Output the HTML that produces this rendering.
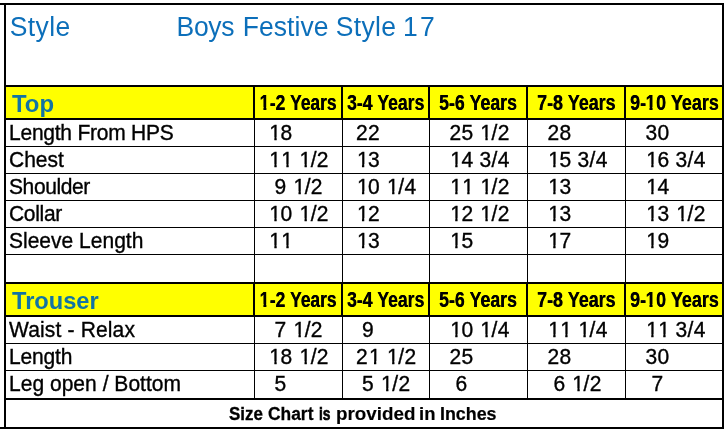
<!DOCTYPE html>
<html><head><meta charset="utf-8"><title>Size Chart</title>
<style>
html,body{margin:0;padding:0;background:#fff;}
body{width:726px;height:432px;position:relative;overflow:hidden;font-family:"Liberation Sans",sans-serif;color:#000;}
.r{position:absolute;}
.t{position:absolute;height:50px;line-height:0;white-space:nowrap;transform-origin:0 50px;}
.t>i{display:inline-block;width:0;height:50px;}
.b{color:#0C6FBA;}
.y{color:#1274A4;}
.d{-webkit-text-stroke:.35px #000;}
.w{font-weight:bold;}
.f{-webkit-text-stroke:.3px #000;}
.h{text-shadow:.35px 0 0 #000;}
.o{display:inline-block;font-weight:inherit;line-height:1.117em;vertical-align:baseline;position:relative;
clip-path:polygon(0 0,100% 0,100% .78em,.35em .78em,.35em 100%,.2415em 100%,.2415em .78em,0 .78em);}
.v .o{left:.038em;}
.w .o{left:-.025em;clip-path:polygon(0 0,100% 0,100% .78em,.383em .78em,.383em 100%,.2334em 100%,.2334em .78em,0 .78em);}
#c{position:absolute;left:0;top:0;width:726px;height:432px;will-change:transform;}
</style></head><body><div id="c">
<div class="r" style="left:6px;top:87px;width:716px;height:31px;background:#FFFF00"></div>
<div class="r" style="left:6px;top:284px;width:716px;height:31px;background:#FFFF00"></div>
<div class="r" style="left:0px;top:3px;width:724px;height:2px;background:#000"></div>
<div class="r" style="left:0px;top:427px;width:724px;height:2px;background:#000"></div>
<div class="r" style="left:4px;top:3px;width:2px;height:426px;background:#000"></div>
<div class="r" style="left:722px;top:3px;width:2px;height:426px;background:#000"></div>
<div class="r" style="left:6px;top:85px;width:716px;height:2px;background:#000"></div>
<div class="r" style="left:6px;top:118px;width:716px;height:2px;background:#000"></div>
<div class="r" style="left:6px;top:282px;width:716px;height:2px;background:#000"></div>
<div class="r" style="left:6px;top:315px;width:716px;height:2px;background:#000"></div>
<div class="r" style="left:6px;top:398px;width:716px;height:2px;background:#000"></div>
<div class="r" style="left:6px;top:146px;width:716px;height:1px;background:#000"></div>
<div class="r" style="left:6px;top:173px;width:716px;height:1px;background:#000"></div>
<div class="r" style="left:6px;top:200px;width:716px;height:1px;background:#000"></div>
<div class="r" style="left:6px;top:227px;width:716px;height:1px;background:#000"></div>
<div class="r" style="left:6px;top:254px;width:716px;height:1px;background:#000"></div>
<div class="r" style="left:6px;top:343px;width:716px;height:1px;background:#000"></div>
<div class="r" style="left:6px;top:370px;width:716px;height:1px;background:#000"></div>
<div class="r" style="left:254px;top:87px;width:1px;height:311px;background:#000"></div>
<div class="r" style="left:253px;top:85px;width:2px;height:35px;background:#000"></div>
<div class="r" style="left:253px;top:282px;width:2px;height:35px;background:#000"></div>
<div class="r" style="left:342px;top:87px;width:1px;height:311px;background:#000"></div>
<div class="r" style="left:341px;top:85px;width:2px;height:35px;background:#000"></div>
<div class="r" style="left:341px;top:282px;width:2px;height:35px;background:#000"></div>
<div class="r" style="left:429px;top:87px;width:1px;height:311px;background:#000"></div>
<div class="r" style="left:428px;top:85px;width:2px;height:35px;background:#000"></div>
<div class="r" style="left:428px;top:282px;width:2px;height:35px;background:#000"></div>
<div class="r" style="left:527px;top:87px;width:1px;height:311px;background:#000"></div>
<div class="r" style="left:526px;top:85px;width:2px;height:35px;background:#000"></div>
<div class="r" style="left:526px;top:282px;width:2px;height:35px;background:#000"></div>
<div class="r" style="left:625px;top:87px;width:1px;height:311px;background:#000"></div>
<div class="r" style="left:624px;top:85px;width:2px;height:35px;background:#000"></div>
<div class="r" style="left:624px;top:282px;width:2px;height:35px;background:#000"></div>
<div class="t b" style="left:9.80px;top:-14.00px;font-size:26.5px;letter-spacing:0.367px;transform:scale(1.0000,1.0300);"><i></i>Style</div>
<div class="t b" style="left:176.53px;top:-14.00px;font-size:26.5px;letter-spacing:-0.294px;transform:scale(1.0000,1.0300);"><i></i>Boys</div>
<div class="t b" style="left:242.63px;top:-14.00px;font-size:26.5px;letter-spacing:0.090px;transform:scale(1.0000,1.0300);"><i></i>Festive</div>
<div class="t b" style="left:335.80px;top:-14.00px;font-size:26.5px;letter-spacing:0.342px;transform:scale(1.0000,1.0300);"><i></i>Style</div>
<div class="t b" style="left:403.08px;top:-14.00px;font-size:26.5px;letter-spacing:2.175px;transform:scale(1.0000,1.0300);"><i></i>17</div>
<div class="t w y" style="left:11.53px;top:62.00px;font-size:23.4px;transform:scale(1.0226,1.0500);"><i></i>Top</div>
<div class="t w y" style="left:11.53px;top:259.00px;font-size:23.4px;transform:scale(1.0104,1.0500);"><i></i>Trouser</div>
<div class="t w h" style="left:259.70px;top:60.00px;font-size:20.8px;transform:scale(0.8367,1.0400);"><i></i><b class="o">1</b>-2&nbsp;Years</div>
<div class="t w h" style="left:346.90px;top:60.00px;font-size:20.8px;transform:scale(0.8445,1.0400);"><i></i>3-4&nbsp;Years</div>
<div class="t w h" style="left:439.46px;top:60.00px;font-size:20.8px;transform:scale(0.8515,1.0400);"><i></i>5-6&nbsp;Years</div>
<div class="t w h" style="left:536.83px;top:60.00px;font-size:20.8px;transform:scale(0.8582,1.0400);"><i></i>7-8&nbsp;Years</div>
<div class="t w h" style="left:630.08px;top:60.00px;font-size:20.8px;transform:scale(0.8614,1.0400);"><i></i>9-<b class="o">1</b>0&nbsp;Years</div>
<div class="t w h" style="left:259.70px;top:257.00px;font-size:20.8px;transform:scale(0.8367,1.0400);"><i></i><b class="o">1</b>-2&nbsp;Years</div>
<div class="t w h" style="left:346.90px;top:257.00px;font-size:20.8px;transform:scale(0.8445,1.0400);"><i></i>3-4&nbsp;Years</div>
<div class="t w h" style="left:439.46px;top:257.00px;font-size:20.8px;transform:scale(0.8515,1.0400);"><i></i>5-6&nbsp;Years</div>
<div class="t w h" style="left:536.83px;top:257.00px;font-size:20.8px;transform:scale(0.8582,1.0400);"><i></i>7-8&nbsp;Years</div>
<div class="t w h" style="left:630.08px;top:257.00px;font-size:20.8px;transform:scale(0.8614,1.0400);"><i></i>9-<b class="o">1</b>0&nbsp;Years</div>
<div class="t d" style="left:9.00px;top:90.00px;font-size:21px;letter-spacing:-0.236px;transform:scale(1.0000,1.0250);"><i></i>Length&nbsp;From&nbsp;HPS</div>
<div class="t v d" style="left:268.50px;top:90.00px;font-size:21px;letter-spacing:0.321px;transform:scale(1.0000,1.0250);"><i></i><b class="o">1</b>8</div>
<div class="t v d" style="left:356.10px;top:90.00px;font-size:21px;letter-spacing:0.321px;transform:scale(1.0000,1.0250);"><i></i>22</div>
<div class="t v d" style="left:449.40px;top:90.00px;font-size:21px;letter-spacing:0.321px;transform:scale(1.0000,1.0250);"><i></i>25&nbsp;<b class="o">1</b>/2</div>
<div class="t v d" style="left:547.40px;top:90.00px;font-size:21px;letter-spacing:0.321px;transform:scale(1.0000,1.0250);"><i></i>28</div>
<div class="t v d" style="left:645.40px;top:90.00px;font-size:21px;letter-spacing:0.321px;transform:scale(1.0000,1.0250);"><i></i>30</div>
<div class="t d" style="left:9.00px;top:117.00px;font-size:21px;letter-spacing:0.011px;transform:scale(1.0000,1.0250);"><i></i>Chest</div>
<div class="t v d" style="left:268.50px;top:117.00px;font-size:21px;letter-spacing:0.321px;transform:scale(1.0000,1.0250);"><i></i><b class="o">1</b><b class="o">1</b>&nbsp;<b class="o">1</b>/2</div>
<div class="t v d" style="left:356.10px;top:117.00px;font-size:21px;letter-spacing:0.321px;transform:scale(1.0000,1.0250);"><i></i><b class="o">1</b>3</div>
<div class="t v d" style="left:449.40px;top:117.00px;font-size:21px;letter-spacing:0.321px;transform:scale(1.0000,1.0250);"><i></i><b class="o">1</b>4&nbsp;3/4</div>
<div class="t v d" style="left:547.40px;top:117.00px;font-size:21px;letter-spacing:0.321px;transform:scale(1.0000,1.0250);"><i></i><b class="o">1</b>5&nbsp;3/4</div>
<div class="t v d" style="left:645.40px;top:117.00px;font-size:21px;letter-spacing:0.321px;transform:scale(1.0000,1.0250);"><i></i><b class="o">1</b>6&nbsp;3/4</div>
<div class="t d" style="left:9.00px;top:144.00px;font-size:21px;letter-spacing:-0.388px;transform:scale(1.0000,1.0250);"><i></i>Shoulder</div>
<div class="t v d" style="left:274.50px;top:144.00px;font-size:21px;letter-spacing:0.321px;transform:scale(1.0000,1.0250);"><i></i>9&nbsp;<b class="o">1</b>/2</div>
<div class="t v d" style="left:356.10px;top:144.00px;font-size:21px;letter-spacing:0.321px;transform:scale(1.0000,1.0250);"><i></i><b class="o">1</b>0&nbsp;<b class="o">1</b>/4</div>
<div class="t v d" style="left:449.40px;top:144.00px;font-size:21px;letter-spacing:0.321px;transform:scale(1.0000,1.0250);"><i></i><b class="o">1</b><b class="o">1</b>&nbsp;<b class="o">1</b>/2</div>
<div class="t v d" style="left:547.40px;top:144.00px;font-size:21px;letter-spacing:0.321px;transform:scale(1.0000,1.0250);"><i></i><b class="o">1</b>3</div>
<div class="t v d" style="left:645.40px;top:144.00px;font-size:21px;letter-spacing:0.321px;transform:scale(1.0000,1.0250);"><i></i><b class="o">1</b>4</div>
<div class="t d" style="left:9.00px;top:171.00px;font-size:21px;letter-spacing:-0.300px;transform:scale(1.0000,1.0250);"><i></i>Collar</div>
<div class="t v d" style="left:268.50px;top:171.00px;font-size:21px;letter-spacing:0.321px;transform:scale(1.0000,1.0250);"><i></i><b class="o">1</b>0&nbsp;<b class="o">1</b>/2</div>
<div class="t v d" style="left:356.10px;top:171.00px;font-size:21px;letter-spacing:0.321px;transform:scale(1.0000,1.0250);"><i></i><b class="o">1</b>2</div>
<div class="t v d" style="left:449.40px;top:171.00px;font-size:21px;letter-spacing:0.321px;transform:scale(1.0000,1.0250);"><i></i><b class="o">1</b>2&nbsp;<b class="o">1</b>/2</div>
<div class="t v d" style="left:547.40px;top:171.00px;font-size:21px;letter-spacing:0.321px;transform:scale(1.0000,1.0250);"><i></i><b class="o">1</b>3</div>
<div class="t v d" style="left:645.40px;top:171.00px;font-size:21px;letter-spacing:0.321px;transform:scale(1.0000,1.0250);"><i></i><b class="o">1</b>3&nbsp;<b class="o">1</b>/2</div>
<div class="t d" style="left:9.00px;top:198.00px;font-size:21px;letter-spacing:0.007px;transform:scale(1.0000,1.0250);"><i></i>Sleeve&nbsp;Length</div>
<div class="t v d" style="left:268.50px;top:198.00px;font-size:21px;letter-spacing:0.321px;transform:scale(1.0000,1.0250);"><i></i><b class="o">1</b><b class="o">1</b></div>
<div class="t v d" style="left:356.10px;top:198.00px;font-size:21px;letter-spacing:0.321px;transform:scale(1.0000,1.0250);"><i></i><b class="o">1</b>3</div>
<div class="t v d" style="left:449.40px;top:198.00px;font-size:21px;letter-spacing:0.321px;transform:scale(1.0000,1.0250);"><i></i><b class="o">1</b>5</div>
<div class="t v d" style="left:547.40px;top:198.00px;font-size:21px;letter-spacing:0.321px;transform:scale(1.0000,1.0250);"><i></i><b class="o">1</b>7</div>
<div class="t v d" style="left:645.40px;top:198.00px;font-size:21px;letter-spacing:0.321px;transform:scale(1.0000,1.0250);"><i></i><b class="o">1</b>9</div>
<div class="t d" style="left:9.00px;top:287.00px;font-size:21px;letter-spacing:0.156px;transform:scale(1.0000,1.0250);"><i></i>Waist&nbsp;-&nbsp;Relax</div>
<div class="t v d" style="left:274.50px;top:287.00px;font-size:21px;letter-spacing:0.321px;transform:scale(1.0000,1.0250);"><i></i>7&nbsp;<b class="o">1</b>/2</div>
<div class="t v d" style="left:362.10px;top:287.00px;font-size:21px;letter-spacing:0.321px;transform:scale(1.0000,1.0250);"><i></i>9</div>
<div class="t v d" style="left:449.40px;top:287.00px;font-size:21px;letter-spacing:0.321px;transform:scale(1.0000,1.0250);"><i></i><b class="o">1</b>0&nbsp;<b class="o">1</b>/4</div>
<div class="t v d" style="left:547.40px;top:287.00px;font-size:21px;letter-spacing:0.321px;transform:scale(1.0000,1.0250);"><i></i><b class="o">1</b><b class="o">1</b>&nbsp;<b class="o">1</b>/4</div>
<div class="t v d" style="left:645.40px;top:287.00px;font-size:21px;letter-spacing:0.321px;transform:scale(1.0000,1.0250);"><i></i><b class="o">1</b><b class="o">1</b>&nbsp;3/4</div>
<div class="t d" style="left:9.00px;top:314.00px;font-size:21px;letter-spacing:-0.153px;transform:scale(1.0000,1.0250);"><i></i>Length</div>
<div class="t v d" style="left:268.50px;top:314.00px;font-size:21px;letter-spacing:0.321px;transform:scale(1.0000,1.0250);"><i></i><b class="o">1</b>8&nbsp;<b class="o">1</b>/2</div>
<div class="t v d" style="left:356.10px;top:314.00px;font-size:21px;letter-spacing:0.321px;transform:scale(1.0000,1.0250);"><i></i>2<b class="o">1</b>&nbsp;<b class="o">1</b>/2</div>
<div class="t v d" style="left:449.40px;top:314.00px;font-size:21px;letter-spacing:0.321px;transform:scale(1.0000,1.0250);"><i></i>25</div>
<div class="t v d" style="left:547.40px;top:314.00px;font-size:21px;letter-spacing:0.321px;transform:scale(1.0000,1.0250);"><i></i>28</div>
<div class="t v d" style="left:645.40px;top:314.00px;font-size:21px;letter-spacing:0.321px;transform:scale(1.0000,1.0250);"><i></i>30</div>
<div class="t d" style="left:9.00px;top:341.00px;font-size:21px;letter-spacing:0.023px;transform:scale(1.0000,1.0250);"><i></i>Leg&nbsp;open&nbsp;/&nbsp;Bottom</div>
<div class="t v d" style="left:274.50px;top:341.00px;font-size:21px;letter-spacing:0.321px;transform:scale(1.0000,1.0250);"><i></i>5</div>
<div class="t v d" style="left:362.10px;top:341.00px;font-size:21px;letter-spacing:0.321px;transform:scale(1.0000,1.0250);"><i></i>5&nbsp;<b class="o">1</b>/2</div>
<div class="t v d" style="left:455.40px;top:341.00px;font-size:21px;letter-spacing:0.321px;transform:scale(1.0000,1.0250);"><i></i>6</div>
<div class="t v d" style="left:553.40px;top:341.00px;font-size:21px;letter-spacing:0.321px;transform:scale(1.0000,1.0250);"><i></i>6&nbsp;<b class="o">1</b>/2</div>
<div class="t v d" style="left:651.40px;top:341.00px;font-size:21px;letter-spacing:0.321px;transform:scale(1.0000,1.0250);"><i></i>7</div>
<div class="t w" style="left:228.91px;top:370.00px;font-size:17px;transform:scale(0.9956,1.0300);-webkit-text-stroke:0.31px #000;"><i></i>Size</div>
<div class="t w" style="left:267.89px;top:370.00px;font-size:17px;transform:scale(1.0233,1.0300);-webkit-text-stroke:0.26px #000;"><i></i>Chart</div>
<div class="t w" style="left:319.43px;top:370.00px;font-size:17px;transform:scale(0.8134,1.0300);-webkit-text-stroke:0.60px #000;"><i></i>is</div>
<div class="t w" style="left:336.16px;top:370.00px;font-size:17px;transform:scale(1.1072,1.0300);-webkit-text-stroke:0.13px #000;"><i></i>provided</div>
<div class="t w" style="left:418.91px;top:370.00px;font-size:17px;transform:scale(1.0881,1.0300);-webkit-text-stroke:0.16px #000;"><i></i>in</div>
<div class="t w" style="left:439.81px;top:370.00px;font-size:17px;transform:scale(1.0496,1.0300);-webkit-text-stroke:0.22px #000;"><i></i>Inches</div>
</div></body></html>
